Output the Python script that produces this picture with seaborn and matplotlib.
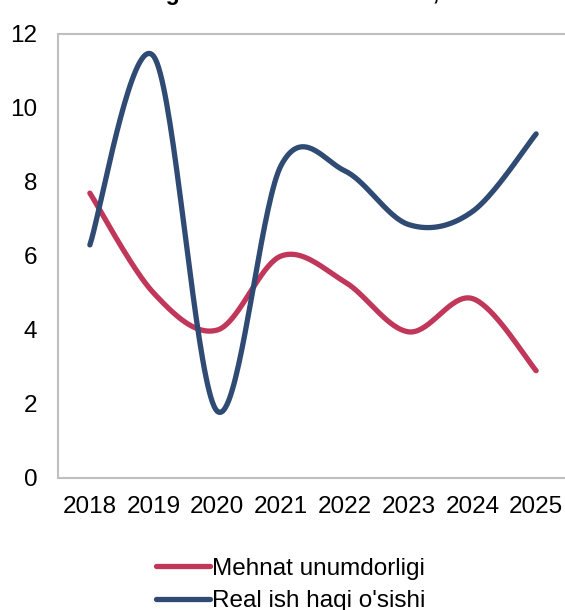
import numpy as np
import pandas as pd
import matplotlib
matplotlib.use("Agg")
import matplotlib.pyplot as plt
import seaborn as sns

years = ["2018", "2019", "2020", "2021", "2022", "2023", "2024", "2025"]
mehnat = [7.7, 5.0, 4.0, 6.0, 5.3, 3.95, 4.85, 2.9]
real_ish = [6.3, 11.4, 1.8, 8.45, 8.3, 6.85, 7.2, 9.3]
series_names = ["Mehnat unumdorligi", "Real ish haqi o'sishi"]
colors = ["#C0375A", "#2F4B74"]
title = "O'zgarish sur'ati dinamikasi, %"

sns.set_theme(style="white")
plt.rcParams["font.family"] = ["Liberation Sans", "DejaVu Sans"]


def smooth(xs, ys, n=40):
    # Excel-like smoothed line: Catmull-Rom (cubic Bezier with 1/6 tangents)
    xs = np.asarray(xs, float)
    ys = np.asarray(ys, float)
    px = np.concatenate([[xs[0]], xs, [xs[-1]]])
    py = np.concatenate([[ys[0]], ys, [ys[-1]]])
    outx, outy = [], []
    t = np.linspace(0, 1, n)
    for i in range(1, len(px) - 2):
        p0 = np.array([px[i], py[i]])
        p3 = np.array([px[i + 1], py[i + 1]])
        c1 = p0 + (np.array([px[i + 1], py[i + 1]]) - np.array([px[i - 1], py[i - 1]])) / 6
        c2 = p3 - (np.array([px[i + 2], py[i + 2]]) - np.array([px[i], py[i]])) / 6
        b = ((1 - t) ** 3)[:, None] * p0 + (3 * (1 - t) ** 2 * t)[:, None] * c1 \
            + (3 * (1 - t) * t ** 2)[:, None] * c2 + (t ** 3)[:, None] * p3
        if i > 1:
            b = b[1:]
        outx.extend(b[:, 0])
        outy.extend(b[:, 1])
    return np.array(outx), np.array(outy)


frames = []
xpos = np.arange(len(years))
for name, vals in zip(series_names, [mehnat, real_ish]):
    sx, sy = smooth(xpos, vals)
    frames.append(pd.DataFrame({"x": sx, "y": sy, "series": name}))
df = pd.concat(frames, ignore_index=True)

fig = plt.figure(figsize=(5.65, 6.10), dpi=100)
ax = fig.add_axes([58 / 565, (610 - 478) / 610, (568 - 58) / 565, (478 - 34) / 610])

sns.lineplot(data=df, x="x", y="y", hue="series", palette=colors, sort=False,
             linewidth=3.8, ax=ax, legend=False)
for ln in ax.get_lines():
    ln.set_solid_capstyle("round")

ax.set_xlim(-0.5, len(years) - 0.5)
ax.set_ylim(0, 12)
ax.set_yticks([0, 2, 4, 6, 8, 10, 12])
ax.set_xticks(xpos)
ax.set_xticklabels(years)
ax.set_xlabel("")
ax.set_ylabel("")
ax.tick_params(axis="both", labelsize=17.5, colors="black", length=0)
ax.tick_params(axis="x", pad=13)
ax.tick_params(axis="y", pad=15)
for s in ax.spines.values():
    s.set_color("#BFBFBF")
    s.set_linewidth(1.5)
ax.spines["right"].set_visible(False)

handles = [plt.Line2D([], [], color=c, linewidth=3.8, solid_capstyle="round") for c in colors]
leg = fig.legend(handles, series_names, loc="center", bbox_to_anchor=(0.515, 0.041),
                 frameon=False, fontsize=17.5, handlelength=2.2, handletextpad=0.1,
                 labelspacing=0.42)
for t in leg.get_texts():
    t.set_color("black")

fig.text(0.5 + 16 / 565, 1.0, title, ha="center", va="baseline", fontsize=16.5,
         fontweight="bold", color="black")

fig.savefig("out.png", dpi=100)
